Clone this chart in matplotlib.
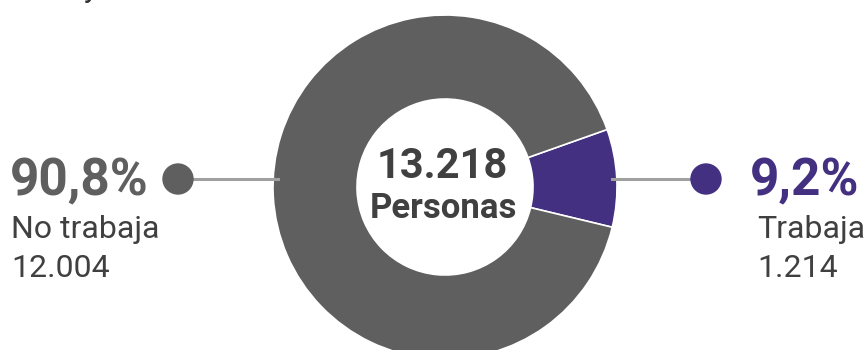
import matplotlib.pyplot as plt
from matplotlib.patches import Circle

# ocupación: trabaja / no trabaja
labels = ['Trabaja', 'No trabaja']
values = [1214, 12004]
colors = ['#433080', '#5f5f5f']
total = sum(values)

W, H = 865, 350
plt.rcParams['font.family'] = ['Roboto', 'DejaVu Sans']

fig = plt.figure(figsize=(W / 100, H / 100), dpi=100)
ax = fig.add_axes([0, 0, 1, 1])

cx, cy = 445, H - 187
r_out, r_in = 172, 88

share = values[0] / total * 360
ax.pie(values, colors=colors, center=(cx, cy), radius=r_out,
       startangle=3 - share / 2, counterclock=True,
       wedgeprops=dict(width=r_out - r_in, edgecolor='white', linewidth=1.2))

ax.set_xlim(0, W)
ax.set_ylim(0, H)
ax.set_aspect('equal')
ax.axis('off')

# total en el centro
ax.text(cx - 3, H - 166, f'{total:,}'.replace(',', '.'), ha='center', va='center',
        fontsize=30, fontweight='bold', color='#404040')
ax.text(cx - 2, H - 209, 'Personas', ha='center', va='center',
        fontsize=25, fontweight='bold', color='#404040')

# conectores
ly = H - 179
ax.plot([178, 278], [ly, ly], color='#a0a0a0', lw=2.2, zorder=1)
ax.plot([612, 706], [ly, ly], color='#a0a0a0', lw=2.2, zorder=1)
ax.add_patch(Circle((178, ly), 15, color=colors[1], zorder=3))
ax.add_patch(Circle((706, ly), 15, color=colors[0], zorder=3))


def pct(v):
    return f'{v / total * 100:.1f}%'.replace('.', ',')


def num(v):
    return f'{v:,}'.replace(',', '.')


# etiqueta izquierda
ax.text(10, H - 195, pct(values[1]), ha='left', va='baseline',
        fontsize=37, fontweight='bold', color=colors[1])
ax.text(11, H - 238, labels[1], ha='left', va='baseline', fontsize=23, color='#404040')
ax.text(11, H - 277, num(values[1]), ha='left', va='baseline', fontsize=23, color='#404040')

# etiqueta derecha
ax.text(750, H - 195, pct(values[0]), ha='left', va='baseline',
        fontsize=37, fontweight='bold', color=colors[0])
ax.text(757, H - 238, labels[0], ha='left', va='baseline', fontsize=23, color='#404040')
ax.text(757, H - 277, num(values[0]), ha='left', va='baseline', fontsize=23, color='#404040')

# resto del título, fuera del recorte
ax.text(84, H + 3, 'y', ha='left', va='baseline', fontsize=22, color='#303030')

fig.savefig('out.png', dpi=100)
